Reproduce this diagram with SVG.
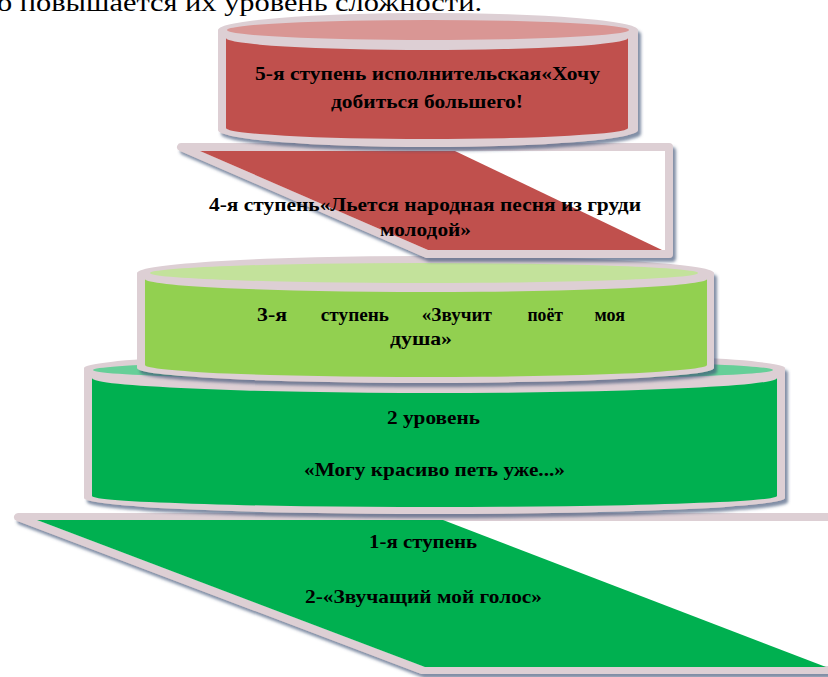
<svg xmlns="http://www.w3.org/2000/svg" width="828" height="677" viewBox="0 0 828 677">
<style>
.frame{fill:#ddcfd4;}
.frameline{fill:#ffffff;stroke:#ddcfd4;stroke-width:8;stroke-linejoin:round;}
.lbl{font-family:"Liberation Serif","Times New Roman",serif;font-weight:bold;font-size:19px;fill:#000000;}
.doc{font-family:"Liberation Serif","Times New Roman",serif;font-size:26px;fill:#000000;}
</style>
<defs>
<filter id="sh" x="-5%" y="-10%" width="112%" height="130%">
<feDropShadow dx="3" dy="4" stdDeviation="1.8" flood-color="#3f5276" flood-opacity="0.65"/>
</filter>
</defs>

<text class="doc" x="-3" y="11" textLength="485" lengthAdjust="spacingAndGlyphs">о повышается их уровень сложности.</text>

<g id="step1">
<polygon class="frameline" points="18,517 850,517 850,670 422,670" filter="url(#sh)"/>
<polygon points="37,520 443,520 826,667 425,667" fill="#00b050"/>
<text class="lbl" x="369" y="548" textLength="108" lengthAdjust="spacingAndGlyphs">1-я ступень</text>
<text class="lbl" x="305" y="603" textLength="237" lengthAdjust="spacingAndGlyphs">2-«Звучащий мой голос»</text>
</g>

<g id="step2">
<path class="frame" d="M84,368 A350.5,16 0 0 1 785,368 L785,498 A350.5,16 0 0 1 84,498 Z" filter="url(#sh)"/>
<ellipse cx="433" cy="370" rx="340" ry="10" fill="#66cf98"/>
<path d="M92,378 A342.5,15 0 0 0 777,378 L777,496 A342.5,11 0 0 1 92,496 Z" fill="#00b050"/>
<text class="lbl" x="387" y="424" textLength="93" lengthAdjust="spacingAndGlyphs">2 уровень</text>
<text class="lbl" x="304" y="476" textLength="261" lengthAdjust="spacingAndGlyphs">«Могу красиво петь уже...»</text>
</g>

<g id="step3">
<path class="frame" d="M137,273 A288.5,17 0 0 1 714,273 L714,368 A288.5,15 0 0 1 137,368 Z" filter="url(#sh)"/>
<ellipse cx="424" cy="273" rx="274" ry="10" fill="#c3e29b"/>
<path d="M145,279 A281,13 0 0 0 707,279 L707,365 A281,12 0 0 1 145,365 Z" fill="#92d050"/>
<text class="lbl" y="321"><tspan x="257" textLength="30" lengthAdjust="spacingAndGlyphs">3-я</tspan><tspan x="316" textLength="73" lengthAdjust="spacingAndGlyphs"> ступень</tspan><tspan x="417" textLength="75" lengthAdjust="spacingAndGlyphs"> «Звучит</tspan><tspan x="523" textLength="40" lengthAdjust="spacingAndGlyphs"> поёт</tspan><tspan x="590" textLength="35" lengthAdjust="spacingAndGlyphs"> моя</tspan></text>
<text class="lbl" x="390" y="345" textLength="62" lengthAdjust="spacingAndGlyphs">душа»</text>
</g>

<g id="step4">
<polygon class="frameline" points="181,147 669,147 669,254 427,254" filter="url(#sh)"/>
<polygon points="200,151 455,151 662,250 428,250" fill="#c0504d"/>
<text class="lbl" x="209" y="211" textLength="432" lengthAdjust="spacingAndGlyphs">4-я ступень«Льется народная песня из груди</text>
<text class="lbl" x="380" y="236" textLength="91" lengthAdjust="spacingAndGlyphs">молодой»</text>
</g>

<g id="step5">
<path class="frame" d="M218,30 A210,17 0 0 1 638,30 L638,130 A210,17 0 0 1 218,130 Z" filter="url(#sh)"/>
<ellipse cx="428" cy="30" rx="201" ry="10" fill="#d99694"/>
<path d="M226,38 A201,12 0 0 0 628,38 L628,128 A201,11 0 0 1 226,128 Z" fill="#c0504d"/>
<text class="lbl" x="255" y="80" textLength="345" lengthAdjust="spacingAndGlyphs">5-я ступень исполнительская«Хочу</text>
<text class="lbl" x="331" y="108" textLength="192" lengthAdjust="spacingAndGlyphs">добиться большего!</text>
</g>

<g id="connectors"></g>
</svg>
